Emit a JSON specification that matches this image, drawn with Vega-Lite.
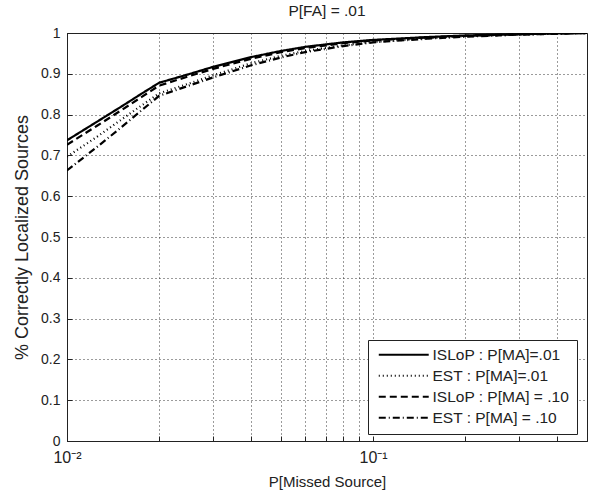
{
  "$schema": "https://vega.github.io/schema/vega-lite/v6.json",
  "autosize": {"type": "none"},
  "padding": {"left": 67, "top": 33, "right": 6, "bottom": 54},
  "width": 520,
  "height": 408,
  "title": {"text": "P[FA] = .01", "fontSize": 15.5, "fontWeight": "normal", "font": "Liberation Sans", "color": "#222", "offset": 7},
  "config": {
    "font": "Liberation Sans",
    "view": {"stroke": "#222", "strokeWidth": 1},
    "axis": {"labelFont": "Liberation Sans", "titleFont": "Liberation Sans", "labelColor": "#222", "titleColor": "#222", "labelFontSize": 14, "titleFontSize": 15, "titleFontWeight": "normal", "domainColor": "#222", "tickColor": "#222", "gridColor": "#222", "gridDash": [1, 3], "gridOpacity": 0.9, "gridWidth": 1}
  },
  "data": {"values": [
    {"x": 0.01, "y": 0.737, "series": "ISLoP : P[MA]=.01"},
    {"x": 0.0125, "y": 0.782, "series": "ISLoP : P[MA]=.01"},
    {"x": 0.015, "y": 0.819, "series": "ISLoP : P[MA]=.01"},
    {"x": 0.0175, "y": 0.851, "series": "ISLoP : P[MA]=.01"},
    {"x": 0.02, "y": 0.878, "series": "ISLoP : P[MA]=.01"},
    {"x": 0.025, "y": 0.899, "series": "ISLoP : P[MA]=.01"},
    {"x": 0.03, "y": 0.917, "series": "ISLoP : P[MA]=.01"},
    {"x": 0.04, "y": 0.941, "series": "ISLoP : P[MA]=.01"},
    {"x": 0.05, "y": 0.956, "series": "ISLoP : P[MA]=.01"},
    {"x": 0.06, "y": 0.966, "series": "ISLoP : P[MA]=.01"},
    {"x": 0.07, "y": 0.972, "series": "ISLoP : P[MA]=.01"},
    {"x": 0.08, "y": 0.977, "series": "ISLoP : P[MA]=.01"},
    {"x": 0.1, "y": 0.983, "series": "ISLoP : P[MA]=.01"},
    {"x": 0.15, "y": 0.99, "series": "ISLoP : P[MA]=.01"},
    {"x": 0.2, "y": 0.994, "series": "ISLoP : P[MA]=.01"},
    {"x": 0.3, "y": 0.997, "series": "ISLoP : P[MA]=.01"},
    {"x": 0.4, "y": 0.999, "series": "ISLoP : P[MA]=.01"},
    {"x": 0.5, "y": 1.0, "series": "ISLoP : P[MA]=.01"},

    {"x": 0.01, "y": 0.697, "series": "EST : P[MA]=.01"},
    {"x": 0.0125, "y": 0.745, "series": "EST : P[MA]=.01"},
    {"x": 0.015, "y": 0.787, "series": "EST : P[MA]=.01"},
    {"x": 0.0175, "y": 0.822, "series": "EST : P[MA]=.01"},
    {"x": 0.02, "y": 0.852, "series": "EST : P[MA]=.01"},
    {"x": 0.025, "y": 0.876, "series": "EST : P[MA]=.01"},
    {"x": 0.03, "y": 0.896, "series": "EST : P[MA]=.01"},
    {"x": 0.04, "y": 0.926, "series": "EST : P[MA]=.01"},
    {"x": 0.05, "y": 0.944, "series": "EST : P[MA]=.01"},
    {"x": 0.06, "y": 0.956, "series": "EST : P[MA]=.01"},
    {"x": 0.08, "y": 0.97, "series": "EST : P[MA]=.01"},
    {"x": 0.1, "y": 0.978, "series": "EST : P[MA]=.01"},
    {"x": 0.15, "y": 0.987, "series": "EST : P[MA]=.01"},
    {"x": 0.2, "y": 0.992, "series": "EST : P[MA]=.01"},
    {"x": 0.3, "y": 0.996, "series": "EST : P[MA]=.01"},
    {"x": 0.5, "y": 1.0, "series": "EST : P[MA]=.01"},

    {"x": 0.01, "y": 0.726, "series": "ISLoP : P[MA] = .10"},
    {"x": 0.0125, "y": 0.772, "series": "ISLoP : P[MA] = .10"},
    {"x": 0.015, "y": 0.81, "series": "ISLoP : P[MA] = .10"},
    {"x": 0.0175, "y": 0.843, "series": "ISLoP : P[MA] = .10"},
    {"x": 0.02, "y": 0.871, "series": "ISLoP : P[MA] = .10"},
    {"x": 0.025, "y": 0.894, "series": "ISLoP : P[MA] = .10"},
    {"x": 0.03, "y": 0.912, "series": "ISLoP : P[MA] = .10"},
    {"x": 0.04, "y": 0.937, "series": "ISLoP : P[MA] = .10"},
    {"x": 0.05, "y": 0.953, "series": "ISLoP : P[MA] = .10"},
    {"x": 0.06, "y": 0.963, "series": "ISLoP : P[MA] = .10"},
    {"x": 0.08, "y": 0.975, "series": "ISLoP : P[MA] = .10"},
    {"x": 0.1, "y": 0.982, "series": "ISLoP : P[MA] = .10"},
    {"x": 0.15, "y": 0.989, "series": "ISLoP : P[MA] = .10"},
    {"x": 0.2, "y": 0.993, "series": "ISLoP : P[MA] = .10"},
    {"x": 0.3, "y": 0.997, "series": "ISLoP : P[MA] = .10"},
    {"x": 0.5, "y": 1.0, "series": "ISLoP : P[MA] = .10"},

    {"x": 0.01, "y": 0.663, "series": "EST : P[MA] = .10"},
    {"x": 0.0125, "y": 0.72, "series": "EST : P[MA] = .10"},
    {"x": 0.015, "y": 0.768, "series": "EST : P[MA] = .10"},
    {"x": 0.0175, "y": 0.81, "series": "EST : P[MA] = .10"},
    {"x": 0.02, "y": 0.846, "series": "EST : P[MA] = .10"},
    {"x": 0.025, "y": 0.871, "series": "EST : P[MA] = .10"},
    {"x": 0.03, "y": 0.891, "series": "EST : P[MA] = .10"},
    {"x": 0.04, "y": 0.921, "series": "EST : P[MA] = .10"},
    {"x": 0.05, "y": 0.94, "series": "EST : P[MA] = .10"},
    {"x": 0.06, "y": 0.953, "series": "EST : P[MA] = .10"},
    {"x": 0.08, "y": 0.968, "series": "EST : P[MA] = .10"},
    {"x": 0.1, "y": 0.977, "series": "EST : P[MA] = .10"},
    {"x": 0.15, "y": 0.986, "series": "EST : P[MA] = .10"},
    {"x": 0.2, "y": 0.991, "series": "EST : P[MA] = .10"},
    {"x": 0.3, "y": 0.996, "series": "EST : P[MA] = .10"},
    {"x": 0.5, "y": 1.0, "series": "EST : P[MA] = .10"}
  ]},
  "mark": {"type": "line", "color": "black", "strokeWidth": 2.2, "clip": true},
  "encoding": {
    "x": {"field": "x", "type": "quantitative", "scale": {"type": "log", "domain": [0.01, 0.5], "nice": false},
      "axis": {"title": "P[Missed Source]", "grid": true, "ticks": true, "tickSize": -5, "values": [0.01, 0.02, 0.03, 0.04, 0.05, 0.06, 0.07, 0.08, 0.09, 0.1, 0.2, 0.3, 0.4, 0.5],
        "labelExpr": "datum.value == 0.01 ? '10⁻²' : (datum.value == 0.1 ? '10⁻¹' : '')", "labelFontSize": 16, "labelPadding": 13, "titlePadding": 9, "labelFlush": false}},
    "y": {"field": "y", "type": "quantitative", "scale": {"domain": [0, 1], "nice": false, "zero": false},
      "axis": {"title": "% Correctly Localized Sources", "titleFontSize": 18, "grid": true, "ticks": true, "tickSize": -5, "values": [0, 0.1, 0.2, 0.3, 0.4, 0.5, 0.6, 0.7, 0.8, 0.9, 1], "format": "~g", "labelPadding": 12, "titlePadding": 9}},
    "strokeDash": {"field": "series", "type": "nominal",
      "scale": {"domain": ["ISLoP : P[MA]=.01", "EST : P[MA]=.01", "ISLoP : P[MA] = .10", "EST : P[MA] = .10"],
        "range": [[1, 0], [1, 3], [7, 4], [7, 3, 1, 3]]},
      "legend": {"title": null, "orient": "none", "legendX": 301, "legendY": 307, "symbolType": "M-4,0H4", "symbolSize": 156, "symbolOffset": 21, "symbolStrokeWidth": 2, "symbolStrokeColor": "black", "symbolFillColor": "transparent",
        "labelFont": "Liberation Sans", "labelFontSize": 15.5, "labelColor": "#222", "labelOffset": 21, "rowPadding": 4,
        "fillColor": "white", "strokeColor": "#222", "padding": 7}}
  }
}
